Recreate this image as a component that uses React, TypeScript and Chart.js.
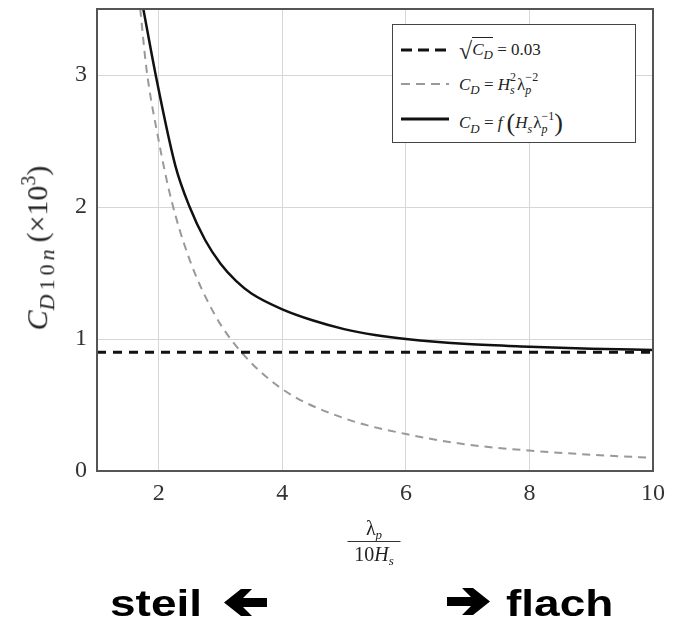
import React, { useEffect, useRef } from "react";
import { Chart, registerables } from "chart.js";

Chart.register(...registerables);

// ---- data ----
const xTicks = [2, 4, 6, 8, 10];
const yTicks = [0, 1, 2, 3];

// sqrt(C_D) = 0.03  ->  C_D = 0.9 (x 10^3)
const constX = [1, 10];
const constY = [0.9, 0.9];

// C_D = Hs^2 lambda_p^-2 (grey dashed)
const greyX = [1.7, 1.8, 2.0, 2.2, 2.5, 2.9, 3.3, 4.0, 5.0, 6.0, 7.0, 8.0, 9.0, 10.0];
const greyY = [3.5, 3.05, 2.5, 2.06, 1.6, 1.19, 0.92, 0.62, 0.4, 0.28, 0.2, 0.155, 0.123, 0.1];

// C_D = f(Hs lambda_p^-1) (black solid)
const fX = [1.75, 1.95, 2.27, 2.5, 2.75, 3.0, 3.25, 3.5, 4.0, 4.5, 5.0, 5.5, 6.0, 7.0, 8.0, 9.0, 10.0];
const fY = [3.5, 3.0, 2.31, 2.0, 1.75, 1.57, 1.44, 1.345, 1.225, 1.14, 1.075, 1.03, 1.0, 0.962, 0.942, 0.927, 0.917];

const W = 673;
const H = 623;
const SERIF = "'Liberation Serif', 'DejaVu Serif', serif";
const SANS = "'Liberation Sans', Arial, sans-serif";

const toPts = (xs: number[], ys: number[]) => xs.map((x, i) => ({ x, y: ys[i] }));

const framePlugin = {
  id: "frame",
  afterDraw(chart: any) {
    const { ctx, chartArea } = chart;
    ctx.save();
    ctx.strokeStyle = "#555";
    ctx.lineWidth = 2;
    ctx.strokeRect(chartArea.left, chartArea.top, chartArea.right - chartArea.left, chartArea.bottom - chartArea.top);
    ctx.restore();
  },
};

function Arrow({ dir, left, top }: { dir: "left" | "right"; left: number; top: number }) {
  const pts = "0,9 24,9 15,0 26,0 43,13.5 26,27 15,27 24,18 0,18";
  return (
    <svg
      width={44}
      height={27}
      viewBox="0 0 44 27"
      style={{ position: "absolute", left, top, transform: dir === "left" ? "scaleX(-1)" : undefined }}
    >
      <polygon points={pts} fill="#000" />
    </svg>
  );
}

function SupSub({ sup, sub }: { sup: string; sub: string }) {
  return (
    <span
      style={{
        display: "inline-flex",
        flexDirection: "column",
        fontSize: 12,
        lineHeight: 1.05,
        verticalAlign: "middle",
        position: "relative",
        top: -2,
      }}
    >
      <span>{sup}</span>
      <i>{sub}</i>
    </span>
  );
}

export default function App() {
  const ref = useRef<HTMLCanvasElement | null>(null);

  useEffect(() => {
    if (!ref.current) return;
    const chart = new Chart(ref.current, {
      type: "scatter",
      data: {
        datasets: [
          {
            label: "sqrt(C_D) = 0.03",
            data: toPts(constX, constY),
            showLine: true,
            borderColor: "#111",
            borderWidth: 3,
            borderDash: [9, 7],
            pointRadius: 0,
          },
          {
            label: "C_D = Hs^2 lambda_p^-2",
            data: toPts(greyX, greyY),
            showLine: true,
            borderColor: "#999",
            borderWidth: 2,
            borderDash: [8, 6],
            pointRadius: 0,
            cubicInterpolationMode: "monotone",
          },
          {
            label: "C_D = f(Hs lambda_p^-1)",
            data: toPts(fX, fY),
            showLine: true,
            borderColor: "#111",
            borderWidth: 2.5,
            pointRadius: 0,
            cubicInterpolationMode: "monotone",
          },
        ],
      } as any,
      options: {
        animation: false,
        responsive: false,
        devicePixelRatio: 1,
        layout: { padding: { left: 0, right: 20, top: 9, bottom: 112 } },
        plugins: { legend: { display: false }, tooltip: { enabled: false }, title: { display: false } },
        scales: {
          x: {
            type: "linear",
            min: 1,
            max: 10,
            afterBuildTicks: (s: any) => {
              s.ticks = xTicks.map((v) => ({ value: v }));
            },
            afterFit: (s: any) => {
              s.height = 40;
              s.paddingLeft = 0;
              s.paddingRight = 0;
            },
            ticks: {
              font: { family: SERIF, size: 24 },
              color: "#333",
              padding: 8,
              maxRotation: 0,
              autoSkip: false,
            },
            grid: { color: "#d6d6d6", lineWidth: 1, drawTicks: false },
            border: { display: false },
          },
          y: {
            type: "linear",
            min: 0,
            max: 3.5,
            afterBuildTicks: (s: any) => {
              s.ticks = yTicks.map((v) => ({ value: v }));
            },
            afterFit: (s: any) => {
              s.width = 97;
              s.paddingTop = 0;
              s.paddingBottom = 0;
            },
            ticks: {
              font: { family: SERIF, size: 24 },
              color: "#333",
              padding: 10,
            },
            grid: { color: "#d6d6d6", lineWidth: 1, drawTicks: false },
            border: { display: false },
          },
        },
      } as any,
      plugins: [framePlugin],
    });
    return () => chart.destroy();
  }, []);

  const mathText: React.CSSProperties = { fontFamily: SERIF, color: "#222", whiteSpace: "nowrap" };

  return (
    <div style={{ position: "absolute", left: 0, top: 0, width: W, height: H, background: "#fff", overflow: "hidden" }}>
      <canvas ref={ref} width={W} height={H} style={{ position: "absolute", left: 0, top: 0, width: W, height: H }} />

      {/* y axis title */}
      <div
        style={{
          ...mathText,
          position: "absolute",
          left: 38,
          top: 248,
          fontSize: 30,
          lineHeight: 1,
          transform: "translate(-50%, -50%) rotate(-90deg)",
        }}
      >
        <i>C</i>
        <sub style={{ fontSize: 22, letterSpacing: 4, verticalAlign: "-0.3em" }}>
          <i>D</i>10<i>n</i>
        </sub>
        <span style={{ marginLeft: 3 }}>(×10</span>
        <sup style={{ fontSize: 20, verticalAlign: "0.6em" }}>3</sup>
        <span>)</span>
      </div>

      {/* x axis title: fraction */}
      <div
        style={{
          ...mathText,
          position: "absolute",
          left: 374,
          top: 518,
          transform: "translateX(-50%)",
          display: "flex",
          flexDirection: "column",
          alignItems: "center",
          lineHeight: 1,
        }}
      >
        <div style={{ fontSize: 20, height: 22 }}>
          λ<sub style={{ fontSize: 13, fontStyle: "italic", verticalAlign: "-0.3em" }}>p</sub>
        </div>
        <div style={{ width: 53, borderTop: "1.3px solid #333", marginTop: 1 }} />
        <div style={{ fontSize: 20, marginTop: 2 }}>
          10<i>H</i>
          <sub style={{ fontSize: 13, fontStyle: "italic", verticalAlign: "-0.3em" }}>s</sub>
        </div>
      </div>

      {/* legend */}
      <div
        style={{
          position: "absolute",
          left: 392,
          top: 24,
          width: 242,
          height: 117,
          border: "1.5px solid #444",
          background: "#fff",
        }}
      >
        <svg width={60} height={117} style={{ position: "absolute", left: 0, top: 0 }}>
          <line x1={8} y1={25} x2={56} y2={25} stroke="#111" strokeWidth={3} strokeDasharray="11 6" />
          <line x1={8} y1={59} x2={56} y2={59} stroke="#999" strokeWidth={2} strokeDasharray="9 6" />
          <line x1={8} y1={94} x2={56} y2={94} stroke="#111" strokeWidth={3} />
        </svg>
        <div style={{ ...mathText, position: "absolute", left: 66, top: 14, fontSize: 17, lineHeight: 1 }}>
          <span style={{ fontSize: 24, verticalAlign: "-0.15em" }}>√</span>
          <span style={{ borderTop: "1.3px solid #222", paddingTop: 2 }}>
            <i>C</i>
            <sub style={{ fontSize: 13 }}>
              <i>D</i>
            </sub>
          </span>
          <span> = 0.03</span>
        </div>
        <div style={{ ...mathText, position: "absolute", left: 66, top: 48, fontSize: 17, lineHeight: 1.2 }}>
          <i>C</i>
          <sub style={{ fontSize: 13 }}>
            <i>D</i>
          </sub>
          <span> = </span>
          <i>H</i>
          <SupSub sup="2" sub="s" />
          <span style={{ marginLeft: 1 }}>λ</span>
          <SupSub sup="−2" sub="p" />
        </div>
        <div style={{ ...mathText, position: "absolute", left: 66, top: 82, fontSize: 17, lineHeight: 1.2 }}>
          <i>C</i>
          <sub style={{ fontSize: 13 }}>
            <i>D</i>
          </sub>
          <span> = </span>
          <i>f</i>
          <span style={{ fontSize: 26, verticalAlign: "-0.1em", marginLeft: 4 }}>(</span>
          <i>H</i>
          <sub style={{ fontSize: 12 }}>
            <i>s</i>
          </sub>
          <span style={{ marginLeft: 1 }}>λ</span>
          <SupSub sup="−1" sub="p" />
          <span style={{ fontSize: 26, verticalAlign: "-0.1em" }}>)</span>
        </div>
      </div>

      {/* steil / flach */}
      <div
        style={{
          position: "absolute",
          left: 110,
          top: 577,
          fontFamily: SANS,
          fontWeight: 700,
          fontSize: 46,
          lineHeight: 1,
          whiteSpace: "nowrap",
          transform: "scaleY(0.8)",
          transformOrigin: "0 39px",
        }}
      >
        steil
      </div>
      <Arrow dir="left" left={223} top={589} />
      <Arrow dir="right" left={447} top={588} />
      <div
        style={{
          position: "absolute",
          left: 506,
          top: 577,
          fontFamily: SANS,
          fontWeight: 700,
          fontSize: 46,
          lineHeight: 1,
          whiteSpace: "nowrap",
          transform: "scaleY(0.8)",
          transformOrigin: "0 39px",
        }}
      >
        flach
      </div>
    </div>
  );
}
